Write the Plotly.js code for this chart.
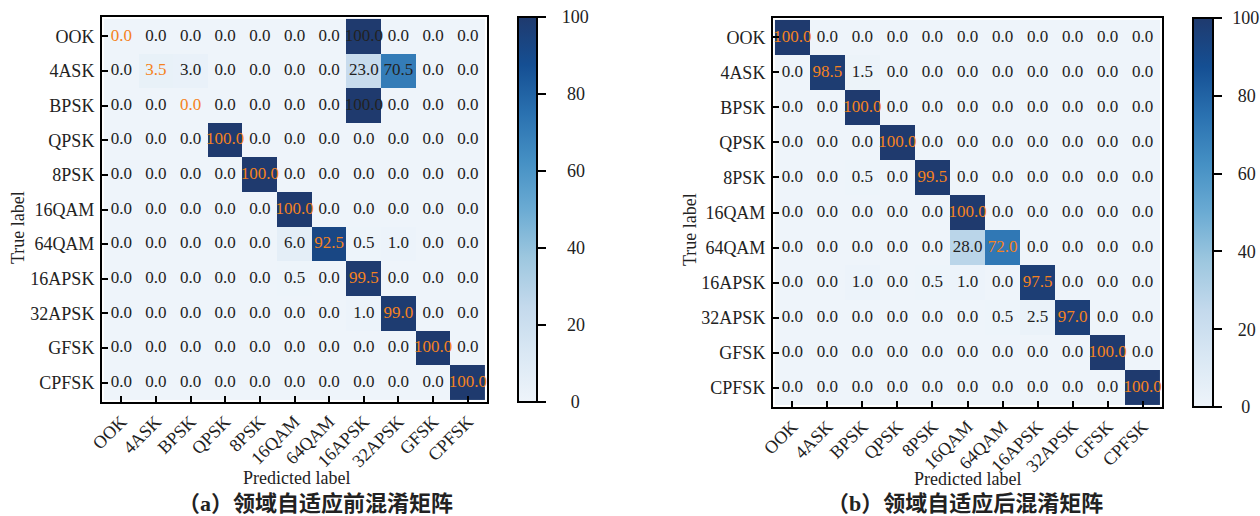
<!DOCTYPE html>
<html>
<head>
<meta charset="utf-8">
<script src="https://cdn.plot.ly/plotly-3.0.1.min.js"></script>
<style>html,body{margin:0;padding:0;background:#fff;}#chart{width:1260px;height:516px;}</style>
</head>
<body>
<div id="chart"></div>
<script>
const classes = ['OOK','4ASK','BPSK','QPSK','8PSK','16QAM','64QAM','16APSK','32APSK','GFSK','CPFSK'];

const matrixBefore = [
  [0,0,0,0,0,0,0,100,0,0,0],
  [0,3.5,3.0,0,0,0,0,23.0,70.5,0,0],
  [0,0,0,0,0,0,0,100,0,0,0],
  [0,0,0,100,0,0,0,0,0,0,0],
  [0,0,0,0,100,0,0,0,0,0,0],
  [0,0,0,0,0,100,0,0,0,0,0],
  [0,0,0,0,0,6.0,92.5,0.5,1.0,0,0],
  [0,0,0,0,0,0.5,0,99.5,0,0,0],
  [0,0,0,0,0,0,0,1.0,99.0,0,0],
  [0,0,0,0,0,0,0,0,0,100,0],
  [0,0,0,0,0,0,0,0,0,0,100]
];

const matrixAfter = [
  [100,0,0,0,0,0,0,0,0,0,0],
  [0,98.5,1.5,0,0,0,0,0,0,0,0],
  [0,0,100,0,0,0,0,0,0,0,0],
  [0,0,0,100,0,0,0,0,0,0,0],
  [0,0,0.5,0,99.5,0,0,0,0,0,0],
  [0,0,0,0,0,100,0,0,0,0,0],
  [0,0,0,0,0,28.0,72.0,0,0,0,0],
  [0,0,1.0,0,0.5,1.0,0,97.5,0,0,0],
  [0,0,0,0,0,0,0.5,2.5,97.0,0,0],
  [0,0,0,0,0,0,0,0,0,100,0],
  [0,0,0,0,0,0,0,0,0,0,100]
];

const colorbarTicks = [0,20,40,60,80,100];
const colorbarTickTextA = ['\u2002\u2002\u20090','\u2002\u200220','\u2002\u200240','\u2002\u200260','\u2002\u200280','\u2002\u2009100'];
const colorbarTickTextB = ['\u2002\u2009\u20090','\u2002\u200920','\u2002\u200940','\u2002\u200960','\u2002\u200980','\u2009\u2009100'];

const captionA = '<b>（a）领域自适应前混淆矩阵</b>';
const captionB = '<b>（b）领域自适应后混淆矩阵</b>';

const blues = [
  [0,'#eef4fa'],[0.125,'#dae8f4'],[0.25,'#c3d9ec'],[0.375,'#9dc7df'],
  [0.5,'#6babd3'],[0.625,'#4590c4'],[0.75,'#2a71b0'],[0.875,'#154f93'],[1,'#1f3a6e']
];
const serif = 'Liberation Serif, Times New Roman, serif';

function cellText(m, xa, ya){
  const xs=[], ys=[], ts=[], cs=[];
  for(let i=0;i<classes.length;i++){
    for(let j=0;j<classes.length;j++){
      xs.push(classes[j]); ys.push(classes[i]);
      ts.push(m[i][j].toFixed(1));
      cs.push(i===j ? '#f58220' : '#222222');
    }
  }
  return {type:'scatter', mode:'text', x:xs, y:ys, text:ts, xaxis:xa, yaxis:ya,
    textfont:{family:serif, size:17, color:cs}, hoverinfo:'skip', cliponaxis:false, showlegend:false};
}

function heat(m, xa, ya, cbx, cbthick, cblen, cby, ticktext){
  return {type:'heatmap', z:m, x:classes, y:classes, xaxis:xa, yaxis:ya,
    zmin:0, zmax:100, colorscale:blues, hoverinfo:'skip',
    colorbar:{x:cbx, xanchor:'left', thickness:cbthick, thicknessmode:'pixels',
      len:cblen, lenmode:'pixels', y:cby, yanchor:'middle', xpad:0, ypad:0,
      outlinewidth:2, outlinecolor:'#000',
      tickmode:'array', tickvals:colorbarTicks, ticktext:ticktext,
      ticks:'outside', ticklen:8, tickwidth:2, tickcolor:'#000',
      tickfont:{family:serif, size:18, color:'#222'}}};
}

const traces = [
  heat(matrixBefore,'x','y', 518/1260, 19, 385, 1-209.5/516, colorbarTickTextA),
  cellText(matrixBefore,'x','y'),
  heat(matrixAfter,'x2','y2', 1193/1260, 20, 389, 1-212.5/516, colorbarTickTextB),
  cellText(matrixAfter,'x2','y2')
];

function xax(domain, anchor){
  return {domain:domain, anchor:anchor, type:'category', showline:true, mirror:true,
    linewidth:2, linecolor:'#000', ticks:'inside', ticklen:6, tickwidth:2, tickcolor:'#000',
    tickangle:-45, tickfont:{family:serif, size:18, color:'#222'}, showgrid:false, zeroline:false,
    automargin:false, fixedrange:true};
}
function yax(domain, anchor){
  return {domain:domain, anchor:anchor, type:'category', autorange:'reversed', showline:true, mirror:true,
    linewidth:2, linecolor:'#000', ticks:'inside', ticklen:6, tickwidth:2, tickcolor:'#000',
    tickfont:{family:serif, size:18, color:'#222'}, showgrid:false, zeroline:false,
    ticklabelstandoff:2, automargin:false, fixedrange:true};
}

function ann(text, x, y, size, family, angle){
  const a = {text:text, xref:'paper', yref:'paper', x:x/1260, y:1-y/516, xanchor:'center', yanchor:'middle',
    showarrow:false, font:{family:family, size:size, color:'#222'}};
  if(angle!==undefined) a.textangle = angle;
  return a;
}

const layout = {
  width:1260, height:516, margin:{l:0,r:0,t:0,b:0, autoexpand:false},
  paper_bgcolor:'#fff', plot_bgcolor:'#fff', showlegend:false,
  xaxis: xax([102/1260, 487/1260], 'y'),
  yaxis: yax([1-402/516, 1-17/516], 'x'),
  xaxis2: xax([773/1260, 1162/1260], 'y2'),
  yaxis2: yax([1-407/516, 1-18/516], 'x2'),
  annotations:[
    ann('Predicted label', 296, 478, 18, serif),
    ann('Predicted label', 967, 479, 18, serif),
    ann('True label', 18, 228, 18, serif, -90),
    ann('True label', 690, 230, 18, serif, -90),
    ann(captionA, 315, 503, 22, 'Liberation Serif, Noto Sans CJK SC'),
    ann(captionB, 965, 503, 22, 'Liberation Serif, Noto Sans CJK SC')
  ]
};

Plotly.newPlot('chart', traces, layout, {displayModeBar:false, staticPlot:true});
</script>
</body>
</html>
